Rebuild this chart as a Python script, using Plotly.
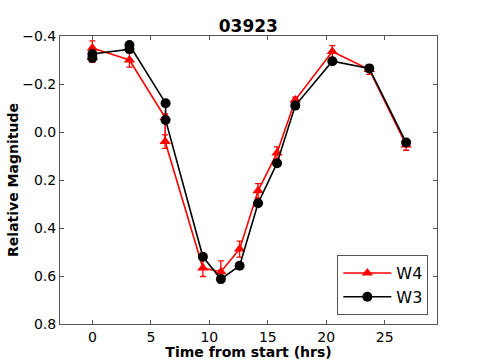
import plotly.graph_objects as go

# W4 (red triangles)
w4_time = [0.0, 0.0, 3.17, 6.22, 6.22, 9.45, 10.99, 12.59, 14.17, 15.79, 17.35, 20.52, 23.68, 26.83]
w4_mag = [-0.31, -0.35, -0.30, -0.06, 0.04, 0.567, 0.582, 0.488, 0.245, 0.087, -0.133, -0.335, -0.26, 0.054]
w4_err = [0.02, 0.03, 0.03, 0.015, 0.028, 0.035, 0.045, 0.033, 0.03, 0.025, 0.012, 0.025, 0.02, 0.022]

# W3 (black circles)
w3_time = [0.0, 0.0, 3.17, 3.17, 6.26, 6.26, 9.45, 10.99, 12.59, 14.17, 15.79, 17.35, 20.52, 23.68, 26.83]
w3_mag = [-0.308, -0.325, -0.345, -0.3625, -0.12, -0.05, 0.52, 0.613, 0.557, 0.297, 0.13, -0.11, -0.295, -0.265, 0.044]
w3_err = [0.008, 0.008, 0.008, 0.008, 0.01, 0.01, 0.012, 0.012, 0.01, 0.01, 0.008, 0.008, 0.008, 0.008, 0.01]

x_ticks = [0, 5, 10, 15, 20, 25]
y_ticks = [-0.4, -0.2, 0.0, 0.2, 0.4, 0.6, 0.8]
y_labels = ["\u22120.4", "\u22120.2", "0.0", "0.2", "0.4", "0.6", "0.8"]

fig = go.Figure()

fig.add_trace(go.Scatter(
    x=w4_time, y=w4_mag, name="W4", mode="lines+markers",
    line=dict(color="red", width=1.6),
    marker=dict(symbol="triangle-up", size=10, color="red"),
    error_y=dict(type="data", array=w4_err, color="red", thickness=1.3, width=3),
))
fig.add_trace(go.Scatter(
    x=w3_time, y=w3_mag, name="W3", mode="lines+markers",
    line=dict(color="black", width=1.6),
    marker=dict(symbol="circle", size=10, color="black"),
    error_y=dict(type="data", array=w3_err, color="black", thickness=1.3, width=3),
))

axis_style = dict(
    showline=True, linecolor="#555", linewidth=1, mirror="ticks", automargin=False,
    ticks="inside", ticklen=4, tickcolor="#555", showgrid=False, zeroline=False,
    tickfont=dict(family="DejaVu Sans", size=14, color="black"),
)

fig.update_xaxes(
    range=[-2.77, 29.47], tickvals=x_ticks,
    title=dict(text="<b>Time from start (hrs)</b>", font=dict(family="DejaVu Sans", size=14, color="black"), standoff=0),
    **axis_style,
)
fig.update_yaxes(
    range=[0.8, -0.4], tickvals=y_ticks, ticktext=y_labels,
    title=dict(text="<b>Relative Magnitude</b>", font=dict(family="DejaVu Sans", size=14, color="black"), standoff=0),
    **axis_style,
)

fig.update_layout(
    width=485, height=360,
    margin=dict(l=60, r=48, t=36, b=36),
    paper_bgcolor="white", plot_bgcolor="white",
    title=dict(text="<b>03923</b>", x=0.512, xanchor="center", y=0.928, yanchor="middle",
               font=dict(family="DejaVu Sans", size=17, color="black")),
    showlegend=True,
    legend=dict(x=0.977, xanchor="right", y=0.031, yanchor="bottom",
                bgcolor="white", bordercolor="#555", borderwidth=1, itemwidth=48,
                font=dict(family="DejaVu Sans", size=16, color="black")),
)

# drop the browser's default page margin so the figure sits at the window corner
fig.write_html("out.html", config={"displayModeBar": False},
               post_script="document.body.style.margin='0';")
